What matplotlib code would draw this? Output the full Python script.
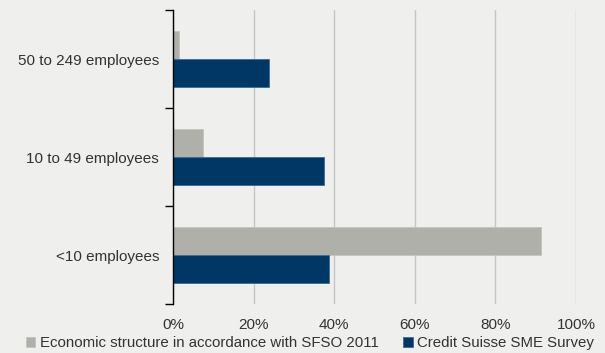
import matplotlib
matplotlib.use("Agg")
import matplotlib.pyplot as plt
import numpy as np

categories = ["<10 employees", "10 to 49 employees", "50 to 249 employees"]
sfso_2011 = [91.3, 7.4, 1.5]
cs_survey = [38.7, 37.5, 23.8]
series_labels = ["Economic structure in accordance with SFSO 2011", "Credit Suisse SME Survey"]
x_ticks = [0, 20, 40, 60, 80, 100]

bg = "#efefed"
grey = "#b0b0aa"
navy = "#003764"

plt.rcParams["font.family"] = ["Liberation Sans", "DejaVu Sans"]

fig = plt.figure(figsize=(6.05, 3.53), dpi=100, facecolor=bg)
ax = fig.add_axes([173 / 605, 1 - 304 / 353, (576 - 173) / 605, (304 - 10) / 353])
ax.set_facecolor(bg)

y = np.arange(len(categories))
h = 0.286
ax.barh(y + h / 2, sfso_2011, height=h, color=grey, edgecolor="#c4c4bf",
        linewidth=0.6, label=series_labels[0], zorder=3)
ax.barh(y - h / 2, cs_survey, height=h, color=navy, edgecolor="#3d6a96",
        linewidth=0.6, label=series_labels[1], zorder=3)

ax.set_xlim(0, 100)
ax.set_ylim(-0.5, len(categories) - 0.5)
ax.set_xticks(x_ticks)
ax.set_xticklabels([f"{v}%" for v in x_ticks], fontsize=11, color="#333333")
ax.set_yticks(y)
ax.set_yticklabels(categories, fontsize=11, color="#333333")
ax.set_yticks(np.arange(len(categories) + 1) - 0.5, minor=True)
ax.tick_params(axis="y", which="major", length=0, pad=10)
ax.tick_params(axis="y", which="minor", length=6, width=1, color="#000000")
ax.tick_params(axis="x", length=0, pad=10)

ax.grid(axis="x", color="#c6c6c4", linewidth=1, zorder=0)
for s in ["top", "right", "bottom"]:
    ax.spines[s].set_visible(False)
ax.spines["left"].set_color("#000000")
ax.spines["left"].set_linewidth(1)
ax.spines["left"].set_zorder(4)

fig.legend(loc="lower center", bbox_to_anchor=(0.512, -0.03), ncol=2, frameon=False,
           fontsize=10.8, handlelength=0.65, handleheight=0.65, handletextpad=0.3,
           columnspacing=1.6, labelcolor="#333333")

fig.savefig("out.png", dpi=100, facecolor=bg)
